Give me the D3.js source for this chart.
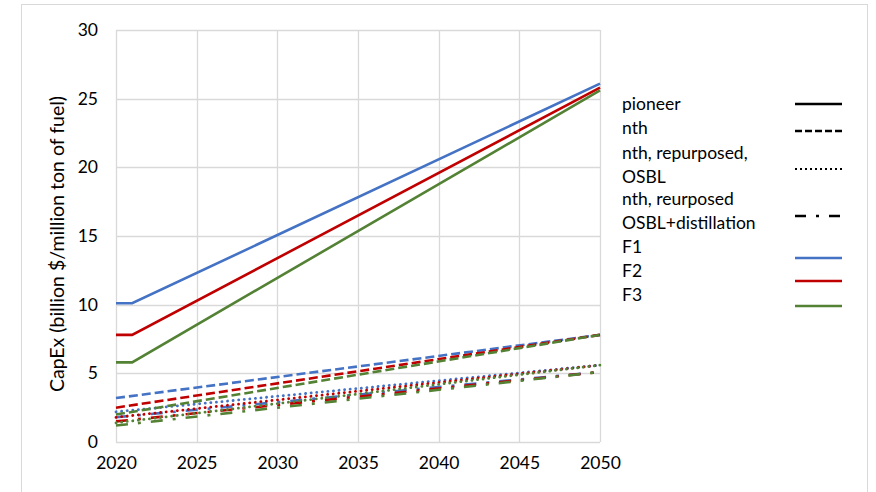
<!DOCTYPE html>
<html>
<head>
<meta charset="utf-8">
<script src="https://cdn.jsdelivr.net/npm/d3@7"></script>
<style>
  html, body { margin: 0; padding: 0; background: #fff; }
  svg { display: block; font-family: Lato, "Open Sans", sans-serif; }
</style>
</head>
<body>
<svg id="chart" width="876" height="492"></svg>
<script>
// CapEx trajectories by fuel route and plant maturity
const yTicks = [0, 5, 10, 15, 20, 25, 30];
const xTicks = [2020, 2025, 2030, 2035, 2040, 2045, 2050];

const pioneerYears = [2020, 2021, 2050];
const nthYears = [2020, 2050];

const pioneerF1 = [10.1, 10.1, 26.1];
const pioneerF2 = [7.8, 7.8, 25.8];
const pioneerF3 = [5.8, 5.8, 25.6];

const nthF1 = [3.2, 7.8];
const nthF2 = [2.5, 7.8];
const nthF3 = [2.0, 7.8];

const osblF1 = [2.2, 5.6];
const osblF2 = [1.8, 5.6];
const osblF3 = [1.4, 5.6];

const distF1 = [1.8, 5.1];
const distF2 = [1.5, 5.1];
const distF3 = [1.2, 5.1];

const fuels = ["F1", "F2", "F3"];

const colors = { F1: "#4472C4", F2: "#C00000", F3: "#548235" };
const dashes = {
  pioneer: null,
  nth: "9,4",
  osbl: "0.1,5.5",
  dist: "12,10,3,10"
};

const seriesList = [
  { fuel: "F1", style: "dist", years: nthYears, values: distF1 },
  { fuel: "F2", style: "dist", years: nthYears, values: distF2 },
  { fuel: "F3", style: "dist", years: nthYears, values: distF3 },
  { fuel: "F1", style: "osbl", years: nthYears, values: osblF1 },
  { fuel: "F2", style: "osbl", years: nthYears, values: osblF2 },
  { fuel: "F3", style: "osbl", years: nthYears, values: osblF3 },
  { fuel: "F1", style: "nth", years: nthYears, values: nthF1 },
  { fuel: "F2", style: "nth", years: nthYears, values: nthF2 },
  { fuel: "F3", style: "nth", years: nthYears, values: nthF3 },
  { fuel: "F1", style: "pioneer", years: pioneerYears, values: pioneerF1 },
  { fuel: "F2", style: "pioneer", years: pioneerYears, values: pioneerF2 },
  { fuel: "F3", style: "pioneer", years: pioneerYears, values: pioneerF3 }
];

const svg = d3.select("#chart");
const grid = "#d9d9d9";
const textSize = 17.5;

// chart area border
svg.append("rect")
  .attr("x", 21.5).attr("y", 4.5)
  .attr("width", 846).attr("height", 520)
  .attr("fill", "none").attr("stroke", grid).attr("stroke-width", 1);

const x = d3.scaleLinear().domain([2020, 2050]).range([116, 600]);
const y = d3.scaleLinear().domain([0, 30]).range([442, 30]);

// gridlines
svg.append("g").selectAll("line").data(yTicks).join("line")
  .attr("x1", x(2020)).attr("x2", x(2050))
  .attr("y1", d => Math.round(y(d)) + 0.5).attr("y2", d => Math.round(y(d)) + 0.5)
  .attr("stroke", grid).attr("stroke-width", 1.3);
svg.append("g").selectAll("line").data(xTicks).join("line")
  .attr("y1", y(0)).attr("y2", y(30))
  .attr("x1", d => Math.round(x(d)) + 0.5).attr("x2", d => Math.round(x(d)) + 0.5)
  .attr("stroke", grid).attr("stroke-width", 1.3);

// axes (labels only)
const yAxis = svg.append("g").attr("transform", `translate(${x(2020)},0)`)
  .call(d3.axisLeft(y).tickValues(yTicks).tickSize(0).tickPadding(18));
const xAxis = svg.append("g").attr("transform", `translate(0,${y(0)})`)
  .call(d3.axisBottom(x).tickValues(xTicks).tickFormat(d3.format("d")).tickSize(0).tickPadding(15));
[yAxis, xAxis].forEach(a => {
  a.select(".domain").remove();
  a.selectAll("text").attr("font-family", "Lato, sans-serif").attr("font-size", textSize).attr("fill", "#000");
});

// y-axis title
svg.append("text")
  .attr("transform", `translate(64,${(y(0) + y(30)) / 2 + 8}) rotate(-90)`)
  .attr("text-anchor", "middle")
  .attr("font-size", 19.5).attr("fill", "#000")
  .text("CapEx (billion $/million ton of fuel)");

// series
const line = d3.line().x(d => x(d[0])).y(d => y(d[1]));
svg.append("g").selectAll("path").data(seriesList).join("path")
  .attr("d", s => line(s.years.map((yr, i) => [yr, s.values[i]])))
  .attr("fill", "none")
  .attr("stroke", s => colors[s.fuel])
  .attr("stroke-width", s => s.style === "osbl" ? 2.8 : 2.6)
  .attr("stroke-linecap", s => s.style === "osbl" ? "round" : "butt")
  .attr("stroke-dasharray", s => dashes[s.style]);

// legend
const legend = svg.append("g");
const labelX = 622, symX1 = 795, symX2 = 842;
const textRows = [
  { t: "pioneer", y: 110 },
  { t: "nth", y: 134 },
  { t: "nth, repurposed,", y: 159 },
  { t: "OSBL", y: 183 },
  { t: "nth, reurposed", y: 205 },
  { t: "OSBL+distillation", y: 229 },
  { t: "F1", y: 253 },
  { t: "F2", y: 277 },
  { t: "F3", y: 301 }
];
legend.selectAll("text").data(textRows).join("text")
  .attr("x", labelX).attr("y", d => d.y)
  .attr("font-size", textSize).attr("fill", "#000")
  .text(d => d.t);

const symRows = [
  { y: 104, stroke: "#000", style: "pioneer" },
  { y: 131, stroke: "#000", style: "nth" },
  { y: 169, stroke: "#000", style: "osbl" },
  { y: 216, stroke: "#000", style: "dist" },
  { y: 258, stroke: colors.F1, style: "pioneer" },
  { y: 281, stroke: colors.F2, style: "pioneer" },
  { y: 306, stroke: colors.F3, style: "pioneer" }
];
legend.selectAll("line").data(symRows).join("line")
  .attr("x1", symX1).attr("x2", symX2)
  .attr("y1", d => d.y).attr("y2", d => d.y)
  .attr("stroke", d => d.stroke)
  .attr("stroke-width", d => d.style === "osbl" ? 2 : 2.4)
  .attr("stroke-dasharray", d => d.style === "osbl" ? "2,3" : d.style === "nth" ? "7,3" : d.style === "dist" ? "11,10,3,10" : null);
</script>
</body>
</html>
